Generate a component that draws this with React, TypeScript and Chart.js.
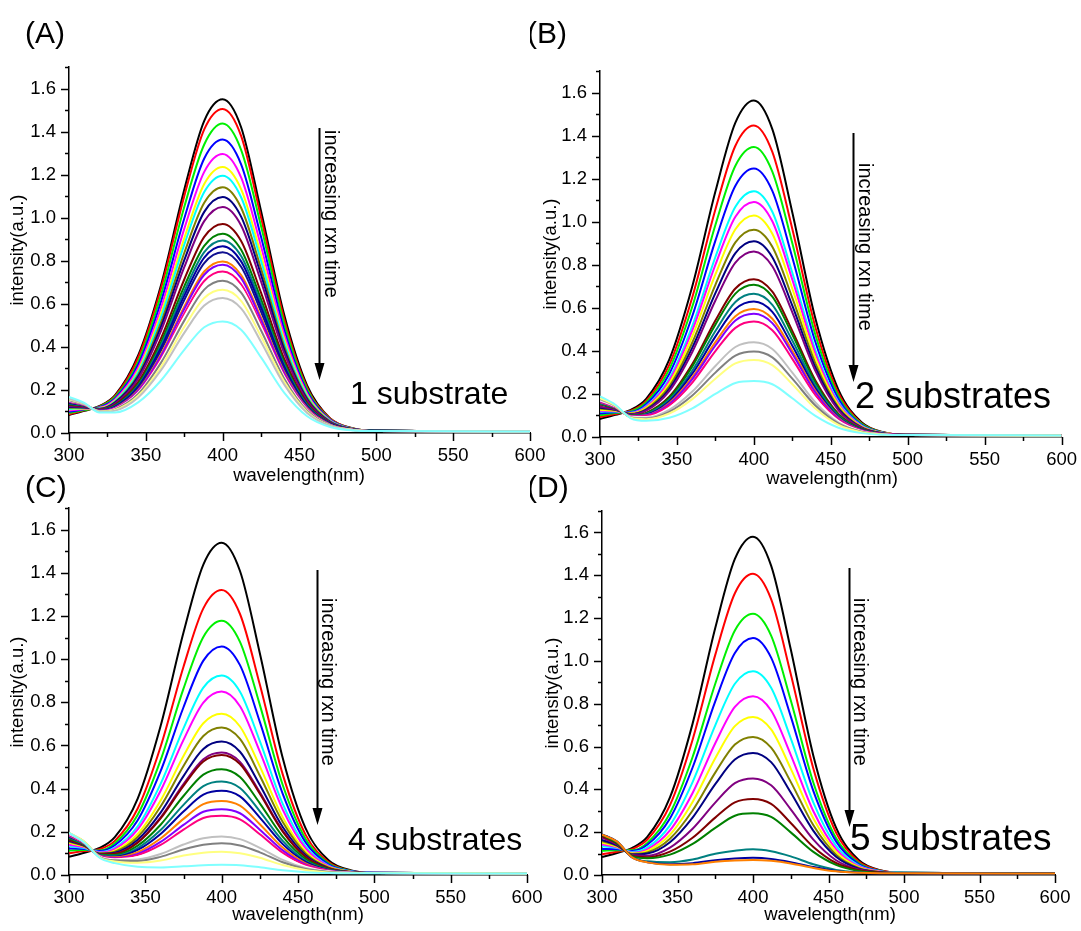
import { useEffect, useRef } from 'react';
import { Chart, registerables } from 'chart.js';

Chart.register(...registerables);

// Sampling wavelengths (nm) shared by every spectrum
const WAVELENGTHS = [300, 310, 320, 330, 345, 360, 375, 388, 400, 412, 425, 440, 455, 470, 485, 500, 600];

const X_MIN = 300;
const X_MAX = 600;
const Y_MIN = 0;
const Y_MAX = 1.7;

// Origin-style line colours
const BLACK = '#000000', RED = '#FF0000', GREEN = '#00F000', BLUE = '#0000FF', CYAN = '#00FFFF',
  MAGENTA = '#FF00FF', YELLOW = '#FFFF00', OLIVE = '#808000', NAVY = '#000080', PURPLE = '#800080',
  WINE = '#800000', DKGREEN = '#008000', TEAL = '#008080', ROYAL = '#0000A0', ORANGE = '#FF8000',
  VIOLET = '#8000FF', PINK = '#FF0080', WHITE = '#FFFFFF', LTGRAY = '#C0C0C0', GRAY = '#808080',
  LTYELLOW = '#FFFF80', LTCYAN = '#80FFFF';

// (A) 1 substrate
const COLORS_A = [BLACK, RED, GREEN, BLUE, MAGENTA, YELLOW, CYAN, OLIVE, NAVY, PURPLE, WINE, DKGREEN, TEAL, ROYAL, '#101090', ORANGE, VIOLET, PINK, WHITE, GRAY, LTYELLOW, LTGRAY, LTCYAN];
const SPECTRA_A = [
  [0.084, 0.103, 0.126, 0.176, 0.36, 0.69, 1.13, 1.45, 1.55, 1.42, 1.03, 0.55, 0.22, 0.068, 0.021, 0.01, 0.007],
  [0.087, 0.105, 0.124, 0.172, 0.35, 0.675, 1.10, 1.41, 1.505, 1.38, 1.00, 0.53, 0.211, 0.067, 0.021, 0.01, 0.007],
  [0.093, 0.107, 0.122, 0.167, 0.33, 0.645, 1.05, 1.34, 1.437, 1.315, 0.96, 0.507, 0.202, 0.064, 0.02, 0.01, 0.007],
  [0.099, 0.11, 0.12, 0.161, 0.317, 0.613, 0.996, 1.275, 1.363, 1.248, 0.91, 0.481, 0.192, 0.061, 0.019, 0.01, 0.007],
  [0.104, 0.112, 0.118, 0.156, 0.303, 0.584, 0.948, 1.213, 1.296, 1.187, 0.866, 0.458, 0.183, 0.059, 0.019, 0.01, 0.007],
  [0.109, 0.114, 0.116, 0.151, 0.291, 0.558, 0.904, 1.157, 1.236, 1.133, 0.826, 0.437, 0.175, 0.056, 0.018, 0.01, 0.007],
  [0.112, 0.116, 0.115, 0.148, 0.282, 0.54, 0.875, 1.119, 1.195, 1.095, 0.799, 0.423, 0.169, 0.055, 0.018, 0.01, 0.007],
  [0.117, 0.118, 0.113, 0.144, 0.271, 0.516, 0.836, 1.069, 1.141, 1.046, 0.763, 0.404, 0.162, 0.053, 0.018, 0.01, 0.007],
  [0.121, 0.119, 0.112, 0.141, 0.262, 0.497, 0.803, 1.027, 1.096, 1.005, 0.734, 0.388, 0.156, 0.051, 0.017, 0.01, 0.007],
  [0.124, 0.121, 0.111, 0.137, 0.252, 0.477, 0.77, 0.984, 1.05, 0.964, 0.703, 0.372, 0.15, 0.049, 0.017, 0.01, 0.007],
  [0.131, 0.124, 0.108, 0.131, 0.236, 0.442, 0.713, 0.911, 0.971, 0.892, 0.651, 0.345, 0.139, 0.046, 0.016, 0.01, 0.007],
  [0.134, 0.126, 0.107, 0.127, 0.227, 0.423, 0.681, 0.869, 0.926, 0.851, 0.621, 0.329, 0.133, 0.044, 0.016, 0.01, 0.007],
  [0.137, 0.127, 0.106, 0.125, 0.22, 0.409, 0.658, 0.84, 0.894, 0.822, 0.6, 0.318, 0.129, 0.043, 0.016, 0.01, 0.007],
  [0.139, 0.128, 0.105, 0.123, 0.215, 0.397, 0.638, 0.815, 0.867, 0.797, 0.582, 0.309, 0.125, 0.042, 0.015, 0.01, 0.007],
  [0.142, 0.129, 0.104, 0.12, 0.209, 0.385, 0.618, 0.789, 0.839, 0.772, 0.563, 0.299, 0.121, 0.041, 0.015, 0.009, 0.007],
  [0.145, 0.13, 0.103, 0.117, 0.2, 0.367, 0.587, 0.75, 0.797, 0.734, 0.536, 0.285, 0.116, 0.039, 0.015, 0.009, 0.007],
  [0.146, 0.131, 0.103, 0.116, 0.197, 0.36, 0.576, 0.735, 0.781, 0.719, 0.525, 0.279, 0.113, 0.038, 0.015, 0.009, 0.007],
  [0.149, 0.132, 0.101, 0.114, 0.19, 0.346, 0.554, 0.706, 0.75, 0.691, 0.505, 0.268, 0.109, 0.037, 0.014, 0.009, 0.007],
  [0.15, 0.133, 0.101, 0.112, 0.186, 0.338, 0.539, 0.687, 0.73, 0.673, 0.491, 0.261, 0.107, 0.036, 0.014, 0.009, 0.007],
  [0.152, 0.134, 0.1, 0.11, 0.181, 0.328, 0.522, 0.666, 0.707, 0.652, 0.476, 0.253, 0.103, 0.036, 0.014, 0.009, 0.007],
  [0.156, 0.135, 0.099, 0.107, 0.173, 0.309, 0.492, 0.627, 0.665, 0.614, 0.448, 0.239, 0.098, 0.034, 0.014, 0.009, 0.007],
  [0.159, 0.136, 0.098, 0.104, 0.165, 0.293, 0.465, 0.592, 0.627, 0.579, 0.423, 0.226, 0.093, 0.033, 0.013, 0.009, 0.007],
  [0.168, 0.14, 0.095, 0.095, 0.142, 0.245, 0.386, 0.491, 0.518, 0.48, 0.351, 0.188, 0.078, 0.028, 0.012, 0.009, 0.007],
];

// (B) 2 substrates
const COLORS_B = [BLACK, RED, GREEN, BLUE, CYAN, MAGENTA, YELLOW, OLIVE, NAVY, PURPLE, WINE, DKGREEN, TEAL, ROYAL, ORANGE, VIOLET, PINK, WHITE, LTGRAY, GRAY, LTYELLOW, LTCYAN];
const SPECTRA_B = [
  [0.084, 0.103, 0.126, 0.177, 0.359, 0.70, 1.14, 1.46, 1.563, 1.43, 1.043, 0.55, 0.219, 0.069, 0.021, 0.01, 0.007],
  [0.093, 0.107, 0.122, 0.168, 0.335, 0.649, 1.057, 1.353, 1.447, 1.324, 0.966, 0.51, 0.203, 0.064, 0.02, 0.01, 0.007],
  [0.101, 0.111, 0.119, 0.16, 0.314, 0.606, 0.985, 1.26, 1.347, 1.233, 0.90, 0.475, 0.19, 0.061, 0.019, 0.01, 0.007],
  [0.109, 0.115, 0.116, 0.152, 0.293, 0.562, 0.912, 1.167, 1.247, 1.143, 0.834, 0.441, 0.176, 0.057, 0.018, 0.01, 0.007],
  [0.118, 0.118, 0.113, 0.144, 0.271, 0.516, 0.836, 1.069, 1.141, 1.046, 0.763, 0.404, 0.162, 0.053, 0.018, 0.01, 0.007],
  [0.122, 0.12, 0.112, 0.14, 0.261, 0.495, 0.80, 1.023, 1.092, 1.002, 0.731, 0.387, 0.155, 0.051, 0.017, 0.01, 0.007],
  [0.127, 0.122, 0.11, 0.135, 0.248, 0.468, 0.755, 0.965, 1.029, 0.944, 0.689, 0.365, 0.147, 0.048, 0.017, 0.01, 0.007],
  [0.132, 0.125, 0.108, 0.13, 0.234, 0.439, 0.707, 0.904, 0.963, 0.884, 0.646, 0.342, 0.138, 0.046, 0.016, 0.01, 0.007],
  [0.136, 0.127, 0.106, 0.126, 0.223, 0.415, 0.668, 0.854, 0.909, 0.835, 0.61, 0.323, 0.131, 0.044, 0.016, 0.01, 0.007],
  [0.14, 0.128, 0.105, 0.122, 0.213, 0.395, 0.634, 0.81, 0.862, 0.793, 0.579, 0.307, 0.124, 0.042, 0.015, 0.01, 0.007],
  [0.151, 0.133, 0.101, 0.112, 0.187, 0.339, 0.541, 0.69, 0.733, 0.675, 0.493, 0.262, 0.107, 0.037, 0.014, 0.009, 0.007],
  [0.153, 0.134, 0.1, 0.11, 0.181, 0.328, 0.522, 0.666, 0.707, 0.652, 0.476, 0.253, 0.103, 0.036, 0.014, 0.009, 0.007],
  [0.156, 0.135, 0.099, 0.107, 0.173, 0.309, 0.492, 0.627, 0.665, 0.614, 0.448, 0.239, 0.098, 0.034, 0.014, 0.009, 0.007],
  [0.159, 0.137, 0.098, 0.104, 0.165, 0.294, 0.466, 0.594, 0.629, 0.581, 0.424, 0.226, 0.093, 0.033, 0.013, 0.009, 0.007],
  [0.162, 0.138, 0.097, 0.101, 0.158, 0.278, 0.441, 0.561, 0.594, 0.549, 0.401, 0.214, 0.088, 0.031, 0.013, 0.009, 0.007],
  [0.164, 0.139, 0.096, 0.1, 0.153, 0.269, 0.425, 0.541, 0.572, 0.529, 0.387, 0.207, 0.085, 0.03, 0.013, 0.009, 0.007],
  [0.167, 0.14, 0.095, 0.097, 0.146, 0.253, 0.399, 0.507, 0.536, 0.496, 0.363, 0.194, 0.08, 0.029, 0.013, 0.009, 0.007],
  [0.17, 0.142, 0.094, 0.093, 0.136, 0.233, 0.366, 0.465, 0.49, 0.454, 0.332, 0.178, 0.074, 0.027, 0.012, 0.009, 0.007],
  [0.174, 0.143, 0.092, 0.089, 0.126, 0.211, 0.33, 0.418, 0.44, 0.409, 0.299, 0.161, 0.067, 0.025, 0.012, 0.009, 0.007],
  [0.178, 0.145, 0.091, 0.086, 0.117, 0.193, 0.299, 0.378, 0.397, 0.37, 0.271, 0.146, 0.062, 0.024, 0.011, 0.009, 0.007],
  [0.181, 0.146, 0.09, 0.083, 0.109, 0.176, 0.271, 0.342, 0.358, 0.334, 0.245, 0.132, 0.056, 0.022, 0.011, 0.009, 0.007],
  [0.189, 0.15, 0.087, 0.075, 0.089, 0.133, 0.2, 0.251, 0.26, 0.245, 0.18, 0.098, 0.043, 0.018, 0.01, 0.009, 0.007],
];

// (C) 4 substrates
const COLORS_C = [BLACK, RED, GREEN, BLUE, CYAN, MAGENTA, YELLOW, OLIVE, NAVY, PURPLE, WINE, DKGREEN, TEAL, ROYAL, ORANGE, VIOLET, PINK, WHITE, LTGRAY, GRAY, LTYELLOW, LTCYAN];
const SPECTRA_C = [
  [0.084, 0.103, 0.125, 0.175, 0.354, 0.69, 1.123, 1.438, 1.539, 1.408, 1.027, 0.542, 0.216, 0.068, 0.021, 0.01, 0.007],
  [0.101, 0.111, 0.119, 0.158, 0.308, 0.594, 0.965, 1.235, 1.32, 1.209, 0.882, 0.466, 0.186, 0.06, 0.019, 0.01, 0.007],
  [0.113, 0.116, 0.114, 0.147, 0.279, 0.532, 0.863, 1.103, 1.178, 1.08, 0.788, 0.417, 0.167, 0.054, 0.018, 0.01, 0.007],
  [0.123, 0.12, 0.111, 0.138, 0.254, 0.481, 0.777, 0.993, 1.059, 0.972, 0.709, 0.376, 0.151, 0.049, 0.017, 0.01, 0.007],
  [0.134, 0.125, 0.107, 0.127, 0.226, 0.422, 0.679, 0.868, 0.924, 0.849, 0.62, 0.329, 0.133, 0.044, 0.016, 0.01, 0.007],
  [0.14, 0.128, 0.104, 0.121, 0.211, 0.39, 0.626, 0.799, 0.85, 0.782, 0.571, 0.303, 0.123, 0.041, 0.015, 0.01, 0.007],
  [0.149, 0.132, 0.101, 0.113, 0.19, 0.345, 0.551, 0.703, 0.747, 0.688, 0.503, 0.267, 0.109, 0.037, 0.014, 0.009, 0.007],
  [0.154, 0.134, 0.1, 0.108, 0.176, 0.317, 0.505, 0.644, 0.683, 0.63, 0.46, 0.245, 0.1, 0.035, 0.014, 0.009, 0.007],
  [0.159, 0.136, 0.098, 0.103, 0.163, 0.289, 0.458, 0.584, 0.618, 0.571, 0.417, 0.222, 0.091, 0.032, 0.013, 0.009, 0.007],
  [0.163, 0.138, 0.096, 0.099, 0.152, 0.267, 0.421, 0.536, 0.567, 0.524, 0.383, 0.205, 0.085, 0.03, 0.013, 0.009, 0.007],
  [0.164, 0.139, 0.096, 0.098, 0.15, 0.262, 0.413, 0.526, 0.556, 0.514, 0.376, 0.201, 0.083, 0.03, 0.013, 0.009, 0.007],
  [0.17, 0.141, 0.094, 0.093, 0.136, 0.233, 0.366, 0.465, 0.49, 0.454, 0.332, 0.178, 0.074, 0.027, 0.012, 0.009, 0.007],
  [0.174, 0.143, 0.092, 0.089, 0.125, 0.208, 0.325, 0.412, 0.433, 0.403, 0.295, 0.158, 0.066, 0.025, 0.012, 0.009, 0.007],
  [0.178, 0.145, 0.091, 0.085, 0.116, 0.19, 0.294, 0.372, 0.39, 0.364, 0.266, 0.143, 0.061, 0.023, 0.011, 0.009, 0.007],
  [0.182, 0.146, 0.089, 0.082, 0.106, 0.169, 0.26, 0.328, 0.343, 0.321, 0.235, 0.127, 0.054, 0.021, 0.011, 0.009, 0.007],
  [0.185, 0.148, 0.088, 0.079, 0.098, 0.153, 0.232, 0.293, 0.305, 0.286, 0.21, 0.114, 0.049, 0.02, 0.011, 0.009, 0.007],
  [0.188, 0.149, 0.087, 0.076, 0.092, 0.139, 0.21, 0.264, 0.274, 0.258, 0.189, 0.103, 0.045, 0.019, 0.01, 0.009, 0.007],
  [0.191, 0.151, 0.086, 0.073, 0.083, 0.12, 0.178, 0.217, 0.23, 0.212, 0.16, 0.088, 0.039, 0.017, 0.01, 0.009, 0.007],
  [0.193, 0.152, 0.084, 0.069, 0.072, 0.097, 0.141, 0.17, 0.178, 0.166, 0.126, 0.07, 0.032, 0.015, 0.01, 0.009, 0.007],
  [0.195, 0.154, 0.083, 0.067, 0.065, 0.084, 0.118, 0.14, 0.147, 0.137, 0.105, 0.059, 0.028, 0.014, 0.009, 0.009, 0.007],
  [0.196, 0.155, 0.082, 0.063, 0.057, 0.067, 0.09, 0.103, 0.108, 0.101, 0.08, 0.046, 0.023, 0.012, 0.009, 0.009, 0.007],
  [0.195, 0.15, 0.08, 0.055, 0.038, 0.035, 0.04, 0.045, 0.047, 0.045, 0.036, 0.022, 0.013, 0.009, 0.008, 0.008, 0.007],
];

// (D) 5 substrates
const COLORS_D = [BLACK, RED, GREEN, BLUE, CYAN, MAGENTA, YELLOW, OLIVE, NAVY, PURPLE, WINE, DKGREEN, TEAL, ROYAL, ORANGE];
const SPECTRA_D = [
  [0.084, 0.103, 0.127, 0.178, 0.362, 0.707, 1.153, 1.476, 1.58, 1.445, 1.054, 0.556, 0.221, 0.07, 0.021, 0.01, 0.007],
  [0.097, 0.109, 0.121, 0.165, 0.326, 0.632, 1.028, 1.316, 1.407, 1.288, 0.939, 0.496, 0.198, 0.063, 0.02, 0.01, 0.007],
  [0.113, 0.116, 0.116, 0.15, 0.288, 0.551, 0.893, 1.142, 1.22, 1.118, 0.816, 0.431, 0.173, 0.056, 0.018, 0.01, 0.007],
  [0.121, 0.12, 0.112, 0.141, 0.264, 0.502, 0.811, 1.037, 1.107, 1.015, 0.741, 0.392, 0.157, 0.051, 0.017, 0.01, 0.007],
  [0.134, 0.126, 0.108, 0.129, 0.232, 0.434, 0.699, 0.893, 0.951, 0.874, 0.638, 0.338, 0.136, 0.045, 0.016, 0.01, 0.007],
  [0.143, 0.13, 0.104, 0.12, 0.208, 0.383, 0.615, 0.785, 0.835, 0.768, 0.561, 0.298, 0.121, 0.041, 0.015, 0.009, 0.007],
  [0.151, 0.133, 0.101, 0.113, 0.188, 0.341, 0.545, 0.695, 0.738, 0.68, 0.497, 0.264, 0.108, 0.037, 0.014, 0.009, 0.007],
  [0.158, 0.136, 0.098, 0.105, 0.169, 0.301, 0.478, 0.609, 0.645, 0.595, 0.435, 0.232, 0.095, 0.033, 0.013, 0.009, 0.007],
  [0.164, 0.139, 0.096, 0.1, 0.153, 0.268, 0.424, 0.539, 0.57, 0.527, 0.385, 0.206, 0.085, 0.03, 0.013, 0.009, 0.007],
  [0.174, 0.143, 0.093, 0.09, 0.128, 0.216, 0.338, 0.429, 0.451, 0.419, 0.307, 0.165, 0.069, 0.026, 0.012, 0.009, 0.007],
  [0.182, 0.146, 0.09, 0.083, 0.109, 0.174, 0.268, 0.339, 0.355, 0.332, 0.243, 0.131, 0.056, 0.022, 0.011, 0.009, 0.007],
  [0.187, 0.149, 0.088, 0.078, 0.095, 0.145, 0.22, 0.277, 0.288, 0.271, 0.199, 0.108, 0.047, 0.019, 0.01, 0.009, 0.007],
  [0.19, 0.155, 0.083, 0.064, 0.06, 0.072, 0.099, 0.113, 0.12, 0.111, 0.087, 0.05, 0.024, 0.013, 0.009, 0.009, 0.007],
  [0.19, 0.156, 0.082, 0.06, 0.05, 0.055, 0.069, 0.077, 0.08, 0.075, 0.06, 0.037, 0.019, 0.011, 0.008, 0.008, 0.007],
  [0.188, 0.156, 0.082, 0.059, 0.048, 0.05, 0.062, 0.068, 0.07, 0.066, 0.054, 0.033, 0.017, 0.01, 0.008, 0.008, 0.007],
];

const FONT = '"Liberation Sans", Arial, Helvetica, sans-serif';
const NOTE_TEXT = 'increasing rxn time';
const Y_TITLE = 'intensity(a.u.)';
const X_TITLE = 'wavelength(nm)';

type Box = { x: number; y: number; w: number; h: number };
type Plot = { L: number; T: number; R: number; B: number };
type Panel = {
  letter: string;
  caption: string;
  spectra: number[][];
  colors: string[];
  canvas: Box;
  plot: Plot;
  letterAt: [number, number];
  yTitleAt: [number, number];
  xTitleAt: [number, number];
  arrow: { x: number; y1: number; y2: number };
  noteAt: [number, number];
  captionAt: [number, number];
  captionSize: number;
};

const PANELS: Panel[] = [
  {
    letter: '(A)', caption: '1 substrate', spectra: SPECTRA_A, colors: COLORS_A,
    canvas: { x: 0, y: 0, w: 560, h: 500 }, plot: { L: 69, T: 67, R: 530, B: 433 },
    letterAt: [25, 43], yTitleAt: [18, 250], xTitleAt: [299, 476],
    arrow: { x: 319, y1: 128, y2: 380 }, noteAt: [331, 130], captionAt: [350, 404], captionSize: 32,
  },
  {
    letter: '(B)', caption: '2 substrates', spectra: SPECTRA_B, colors: COLORS_B,
    canvas: { x: 530, y: 0, w: 551, h: 500 }, plot: { L: 600, T: 71, R: 1063, B: 437 },
    letterAt: [527, 43], yTitleAt: [551, 254], xTitleAt: [832, 479],
    arrow: { x: 853, y1: 133, y2: 382 }, noteAt: [865, 163], captionAt: [855, 408], captionSize: 36,
  },
  {
    letter: '(C)', caption: '4 substrates', spectra: SPECTRA_C, colors: COLORS_C,
    canvas: { x: 0, y: 440, w: 560, h: 491 }, plot: { L: 69, T: 508, R: 527, B: 875 },
    letterAt: [25, 497], yTitleAt: [18, 692], xTitleAt: [298, 915],
    arrow: { x: 317, y1: 570, y2: 825 }, noteAt: [328, 598], captionAt: [348, 850], captionSize: 32,
  },
  {
    letter: '(D)', caption: '5 substrates', spectra: SPECTRA_D, colors: COLORS_D,
    canvas: { x: 530, y: 440, w: 551, h: 491 }, plot: { L: 602, T: 511, R: 1055, B: 875 },
    letterAt: [527, 497], yTitleAt: [553, 693], xTitleAt: [830, 915],
    arrow: { x: 849, y1: 568, y2: 827 }, noteAt: [860, 598], captionAt: [850, 850], captionSize: 37,
  },
];

function decorations(p: Panel) {
  return {
    id: 'panelDecor',
    afterDraw(chart: any) {
      const ctx: CanvasRenderingContext2D = chart.ctx;
      const ox = p.canvas.x;
      const oy = p.canvas.y;
      const xs = chart.scales.x;
      const ys = chart.scales.y;
      const area = chart.chartArea;
      ctx.save();
      ctx.strokeStyle = '#000';
      ctx.fillStyle = '#000';
      ctx.lineWidth = 1.5;

      // outward tick marks: long at labelled values, short in between
      for (let i = 0; i <= 17; i++) {
        const py = Math.round(ys.getPixelForValue(i / 10)) + 0.5;
        const len = i % 2 === 0 ? 8 : 4;
        ctx.beginPath();
        ctx.moveTo(area.left - len, py);
        ctx.lineTo(area.left, py);
        ctx.stroke();
      }
      for (let v = X_MIN; v <= X_MAX; v += 25) {
        const px = Math.round(xs.getPixelForValue(v)) + 0.5;
        const len = v % 50 === 0 ? 8 : 4;
        ctx.beginPath();
        ctx.moveTo(px, area.bottom);
        ctx.lineTo(px, area.bottom + len);
        ctx.stroke();
      }

      // panel letter
      ctx.font = `30px ${FONT}`;
      ctx.textAlign = 'left';
      ctx.textBaseline = 'alphabetic';
      ctx.fillText(p.letter, p.letterAt[0] - ox, p.letterAt[1] - oy);

      // axis titles
      ctx.font = `18.5px ${FONT}`;
      ctx.textAlign = 'center';
      ctx.textBaseline = 'middle';
      ctx.fillText(X_TITLE, p.xTitleAt[0] - ox, p.xTitleAt[1] - oy);
      ctx.save();
      ctx.translate(p.yTitleAt[0] - ox, p.yTitleAt[1] - oy);
      ctx.rotate(-Math.PI / 2);
      ctx.fillText(Y_TITLE, 0, 0);
      ctx.restore();

      // reaction-time arrow
      const ax = p.arrow.x - ox + 0.5;
      const ay1 = p.arrow.y1 - oy;
      const ay2 = p.arrow.y2 - oy;
      ctx.lineWidth = 2;
      ctx.beginPath();
      ctx.moveTo(ax, ay1);
      ctx.lineTo(ax, ay2 - 12);
      ctx.stroke();
      ctx.beginPath();
      ctx.moveTo(ax, ay2);
      ctx.lineTo(ax - 5, ay2 - 17);
      ctx.lineTo(ax + 5, ay2 - 17);
      ctx.closePath();
      ctx.fill();

      // rotated note beside the arrow
      ctx.save();
      ctx.translate(p.noteAt[0] - ox, p.noteAt[1] - oy);
      ctx.rotate(Math.PI / 2);
      ctx.font = `20px ${FONT}`;
      ctx.textAlign = 'left';
      ctx.textBaseline = 'middle';
      ctx.fillText(NOTE_TEXT, 0, 0);
      ctx.restore();

      // substrate caption
      ctx.font = `${p.captionSize}px ${FONT}`;
      ctx.textAlign = 'left';
      ctx.textBaseline = 'alphabetic';
      ctx.fillText(p.caption, p.captionAt[0] - ox, p.captionAt[1] - oy);

      ctx.restore();
    },
  };
}

function makeConfig(p: Panel): any {
  const { canvas, plot } = p;
  const datasets = p.spectra.map((row, i) => ({
    data: row.map((v, j) => ({ x: WAVELENGTHS[j], y: v })),
    borderColor: p.colors[i],
    backgroundColor: p.colors[i],
    borderWidth: 2,
    pointRadius: 0,
    fill: false,
    cubicInterpolationMode: 'monotone',
    order: -i,
  }));
  return {
    type: 'line',
    data: { datasets },
    plugins: [decorations(p)],
    options: {
      animation: false,
      responsive: false,
      maintainAspectRatio: false,
      devicePixelRatio: 1,
      events: [],
      layout: {
        padding: { left: 0, top: plot.T - canvas.y, right: canvas.x + canvas.w - plot.R, bottom: 0 },
      },
      plugins: { legend: { display: false }, tooltip: { enabled: false } },
      scales: {
        x: {
          type: 'linear',
          min: X_MIN,
          max: X_MAX,
          afterFit: (s: any) => { s.height = canvas.y + canvas.h - plot.B; },
          grid: { display: false, drawTicks: true, tickLength: 8 },
          border: { display: true, color: '#000', width: 1.5 },
          ticks: {
            stepSize: 25,
            autoSkip: false,
            maxRotation: 0,
            padding: 4,
            color: '#000',
            font: { family: FONT, size: 18.5 },
            callback: (v: number) => (v % 50 === 0 ? String(v) : ''),
          },
        },
        y: {
          type: 'linear',
          min: Y_MIN,
          max: Y_MAX,
          afterFit: (s: any) => { s.width = plot.L - canvas.x; },
          grid: { display: false, drawTicks: true, tickLength: 8 },
          border: { display: true, color: '#000', width: 1.5 },
          ticks: {
            stepSize: 0.1,
            autoSkip: false,
            padding: 5,
            color: '#000',
            font: { family: FONT, size: 18.5 },
            callback: (v: number) => {
              const k = Math.round(v * 10);
              return k % 2 === 0 ? (k / 10).toFixed(1) : '';
            },
          },
        },
      },
    },
  };
}

export default function App() {
  const refs = useRef<(HTMLCanvasElement | null)[]>([]);

  useEffect(() => {
    const charts = PANELS.map((p, i) => new Chart(refs.current[i] as HTMLCanvasElement, makeConfig(p)));
    return () => charts.forEach((c) => c.destroy());
  }, []);

  return (
    <div style={{ position: 'fixed', left: 0, top: 0, width: 1081, height: 931, background: '#fff', overflow: 'hidden' }}>
      {PANELS.map((p, i) => (
        <canvas
          key={p.letter}
          ref={(el) => { refs.current[i] = el; }}
          width={p.canvas.w}
          height={p.canvas.h}
          style={{ position: 'absolute', left: p.canvas.x, top: p.canvas.y, width: p.canvas.w, height: p.canvas.h }}
        />
      ))}
    </div>
  );
}
